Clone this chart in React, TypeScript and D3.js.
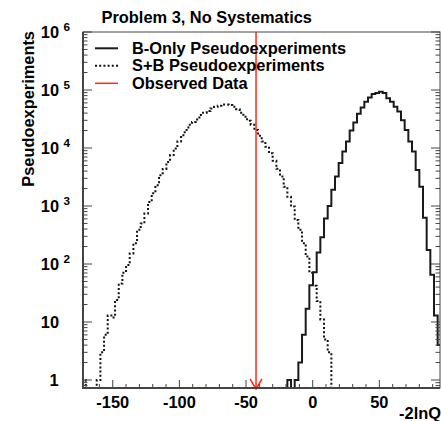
import React from "react";
import * as d3 from "d3";

// ---- data ----
const binStart = -175.75;
const binWidth = 2.75;

const sbCounts = [
  0, 1, 0, 0, 0, 1, 3, 6, 13, 12,
  24, 46, 71, 96, 152, 229, 389, 500, 741, 1175,
  1660, 2290, 3390, 4365, 5750, 7590, 9770, 12900, 16600, 20400,
  25100, 28200, 30900, 37200, 40700, 43600, 47900, 51300, 53700, 56200,
  56200, 55000, 51300, 46800, 40700, 34700, 29500, 25100, 20400, 16200,
  12900, 10500, 8130, 6030, 4370, 3240, 2140, 1450, 977, 575,
  389, 229, 135, 71, 42, 23, 11, 5, 3, 0,
  0, 0, 0, 0, 0, 0, 0, 0, 0, 0,
  0, 0, 0, 0, 0, 0, 0, 0, 0, 0,
  0, 0, 0, 0, 0, 0, 0, 0, 0, 0,
];

const bCounts = [
  0, 0, 0, 0, 0, 0, 0, 0, 0, 0,
  0, 0, 0, 0, 0, 0, 0, 0, 0, 0,
  0, 0, 0, 0, 0, 0, 0, 0, 0, 0,
  0, 0, 0, 0, 0, 0, 0, 0, 0, 0,
  0, 0, 0, 0, 0, 0, 0, 0, 0, 0,
  0, 0, 0, 0, 0, 0, 0, 1, 0, 1,
  2, 6, 17, 43, 72, 158, 290, 610, 1000, 1900,
  3240, 5500, 8700, 12900, 20000, 27500, 38900, 50100, 63000, 74100,
  85100, 89100, 93300, 89100, 72400, 63000, 51300, 42700, 30200, 20400,
  12900, 8700, 4170, 2140, 630, 174, 65, 13, 4, 1,
];

const observedValue = -42.5;
const xDomain = [-172.3, 95.5];
const yDomain = [0.728, 1e6];
const xMajorTicks = [-150, -100, -50, 0, 50];
const xMinorStep = 10;
const yDecades = [0, 1, 2, 3, 4, 5, 6];
const legendLabels = ["B-Only Pseudoexperiments", "S+B Pseudoexperiments", "Observed Data"];
const titleText = "Problem 3, No Systematics";
const xTitleText = "-2lnQ";
const yTitleText = "Pseudoexperiments";

const FONT = "'Liberation Sans', Arial, Helvetica, sans-serif";

export default function App() {
  const W = 441, H = 421;
  const L = 83, R = 440, T = 32, B = 388;
  const x = d3.scaleLinear().domain(xDomain).range([L, R]);
  const y = d3.scaleLog().domain(yDomain).range([B, T]);
  const yv = (v: number) => (v <= 0 ? B + 6 : Math.min(B + 6, y(v)));

  const stepPath = (counts: number[]) => {
    let d = `M${x(binStart)},${B + 6}`;
    counts.forEach((c, i) => {
      const x0 = x(binStart + i * binWidth);
      const x1 = x(binStart + (i + 1) * binWidth);
      const yy = yv(c);
      d += `L${x0},${yy}L${x1},${yy}`;
    });
    d += `L${x(binStart + counts.length * binWidth)},${B + 6}`;
    return d;
  };

  const xMinor: number[] = [];
  for (let v = Math.ceil(xDomain[0] / xMinorStep) * xMinorStep; v <= xDomain[1]; v += xMinorStep) {
    if (!xMajorTicks.includes(v)) xMinor.push(v);
  }
  const yMinor: number[] = [];
  for (let d = -1; d <= 5; d++) {
    for (let m = 2; m <= 9; m++) {
      const v = m * Math.pow(10, d);
      if (v >= yDomain[0] && v <= yDomain[1]) yMinor.push(v);
    }
  }

  const ox = x(observedValue);
  const tickColor = "#444";

  return (
    <svg
      width={W}
      height={H}
      style={{ position: "absolute", left: 0, top: 0, background: "#fff" }}
      fontFamily={FONT}
      fontWeight="bold"
    >
      <rect x={0} y={0} width={W} height={H} fill="#fff" />
      <defs>
        <clipPath id="frameClip">
          <rect x={L} y={T} width={R - L} height={B - T} />
        </clipPath>
      </defs>

      <text x={101.5} y={23} fontSize={16.4} fill="#000">{titleText}</text>

      <g clipPath="url(#frameClip)">
        <path d={stepPath(sbCounts)} fill="none" stroke="#111" strokeWidth={2} strokeDasharray="2,2.2" />
        <path d={stepPath(bCounts)} fill="none" stroke="#1a1a1a" strokeWidth={2} />
      </g>

      {/* observed data arrow */}
      <line x1={ox} x2={ox} y1={T} y2={B} stroke="#ff2a1a" strokeWidth={1.5} />
      <polyline
        points={`${ox - 6},${B - 9} ${ox},${B + 1} ${ox + 6},${B - 9}`}
        fill="none"
        stroke="#ff2a1a"
        strokeWidth={1.5}
      />

      {/* frame */}
      <rect x={L} y={T} width={R - L} height={B - T} fill="none" stroke="#444" strokeWidth={1} />
      <line x1={L} x2={L} y1={T} y2={B + 1} stroke="#444" strokeWidth={2} />
      <line x1={L - 1} x2={R} y1={B} y2={B} stroke="#444" strokeWidth={2} />

      {/* x ticks */}
      {xMajorTicks.map((v) => (
        <line key={"xM" + v} x1={x(v)} x2={x(v)} y1={B} y2={B - 8} stroke={tickColor} strokeWidth={1} />
      ))}
      {xMinor.map((v) => (
        <line key={"xm" + v} x1={x(v)} x2={x(v)} y1={B} y2={B - 4} stroke={tickColor} strokeWidth={1} />
      ))}
      {xMajorTicks.map((v) => (
        <text key={"xl" + v} x={x(v)} y={407.5} fontSize={16.4} textAnchor="middle" fill="#000">
          {v}
        </text>
      ))}
      <text x={441} y={419} fontSize={16.4} textAnchor="end" fill="#000">{xTitleText}</text>

      {/* y ticks */}
      {yDecades.map((d) => {
        const yy = y(Math.pow(10, d));
        return (
          <g key={"yM" + d}>
            <line x1={L} x2={L + 9} y1={yy} y2={yy} stroke={tickColor} strokeWidth={1} />
            <line x1={R} x2={R - 9} y1={yy} y2={yy} stroke={tickColor} strokeWidth={1} />
          </g>
        );
      })}
      {yMinor.map((v) => {
        const yy = y(v);
        return (
          <g key={"ym" + v}>
            <line x1={L} x2={L + 4.5} y1={yy} y2={yy} stroke={tickColor} strokeWidth={1} />
            <line x1={R} x2={R - 4.5} y1={yy} y2={yy} stroke={tickColor} strokeWidth={1} />
          </g>
        );
      })}
      {yDecades.map((d) => {
        const yy = y(Math.pow(10, d));
        if (d === 0)
          return (
            <text key={"yl" + d} x={58.5} y={yy + 5.8} fontSize={16.4} textAnchor="end" fill="#000">1</text>
          );
        return (
          <g key={"yl" + d}>
            <text x={59} y={yy + 5.8} fontSize={16.4} textAnchor="end" fill="#000">10</text>
            {d > 1 && (
              <text x={63.5} y={yy - 1.3} fontSize={11.7} fill="#000">{d}</text>
            )}
          </g>
        );
      })}
      <text
        transform={`translate(34,31) rotate(-90)`}
        fontSize={16.4}
        textAnchor="end"
        fill="#000"
      >
        {yTitleText}
      </text>

      {/* legend */}
      {legendLabels.map((lab, i) => {
        const ly = 48.3 + i * 17.5;
        return (
          <g key={lab}>
            {i === 0 && <line x1={95} x2={118} y1={ly} y2={ly} stroke="#1a1a1a" strokeWidth={2} />}
            {i === 1 && (
              <line x1={95} x2={118} y1={ly} y2={ly} stroke="#111" strokeWidth={2} strokeDasharray="2,2.2" />
            )}
            {i === 2 && <line x1={95} x2={118} y1={ly} y2={ly} stroke="#ff2a1a" strokeWidth={1.5} />}
            <text x={132} y={ly + 5.6} fontSize={16.4} fill="#000">{lab}</text>
          </g>
        );
      })}
    </svg>
  );
}
